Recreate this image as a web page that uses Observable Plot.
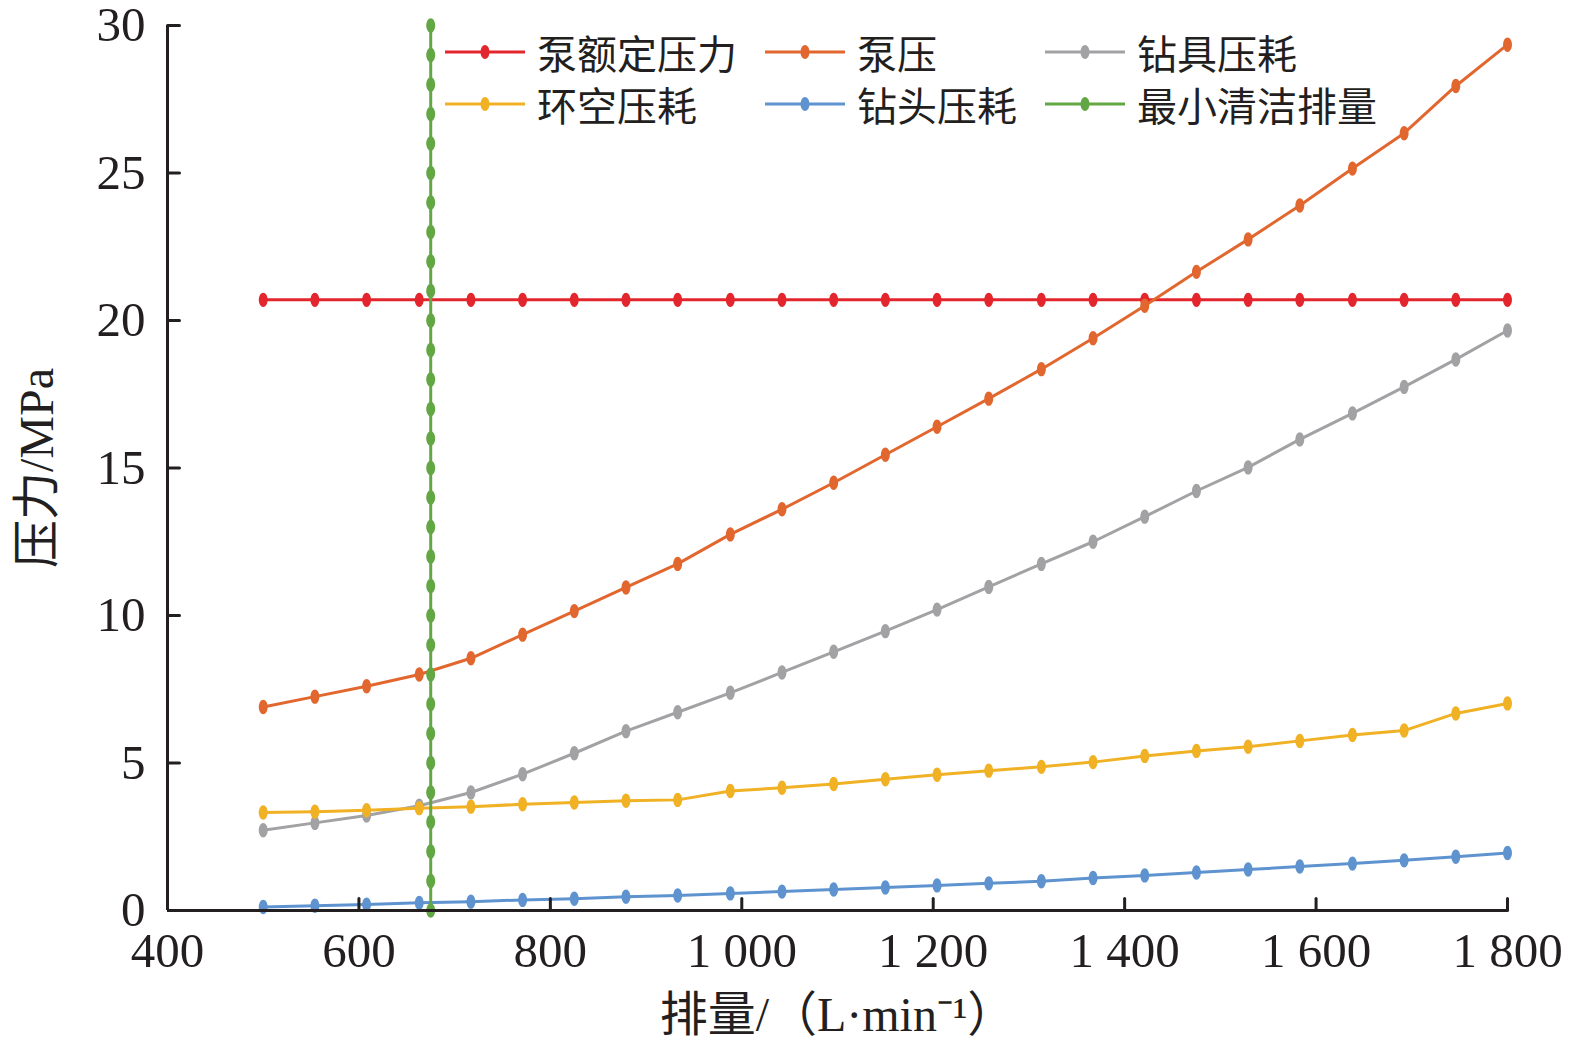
<!DOCTYPE html>
<html>
<head>
<meta charset="utf-8">
<script src="https://cdn.jsdelivr.net/npm/d3@7"></script>
<script src="https://cdn.jsdelivr.net/npm/@observablehq/plot@0.6"></script>
<style>
  html, body { margin: 0; background: #fff; overflow: hidden; }
  #wrap { position: relative; width: 1575px; height: 1048px; font-family: "Liberation Serif", "Noto Sans CJK SC", serif; color: #231f20; }
  #wrap > svg { display: block; max-width: none; }
  #legend { position: absolute; left: 0; top: 0; }
  .item { position: absolute; display: flex; align-items: center; font-size: 40px; line-height: 40px; white-space: nowrap; font-family: "Noto Sans CJK SC", sans-serif; }
  .item svg { display: block; margin-right: 12px; }
  .item span { display: block; height: 40px; line-height: 40px; overflow: visible; }
</style>
</head>
<body>
<div id="wrap"><div id="legend"></div></div>
<script>
// ---- data ----
const flow = [500, 554, 608, 663, 717, 771, 825, 879, 933, 988, 1042, 1096, 1150, 1204, 1258, 1313, 1367, 1421, 1475, 1529, 1583, 1638, 1692, 1746, 1800];
const pumpRated = [20.7, 20.7, 20.7, 20.7, 20.7, 20.7, 20.7, 20.7, 20.7, 20.7, 20.7, 20.7, 20.7, 20.7, 20.7, 20.7, 20.7, 20.7, 20.7, 20.7, 20.7, 20.7, 20.7, 20.7, 20.7];
const pumpPressure = [6.9, 7.25, 7.6, 8.0, 8.55, 9.35, 10.15, 10.95, 11.75, 12.75, 13.6, 14.5, 15.45, 16.4, 17.35, 18.35, 19.4, 20.5, 21.65, 22.75, 23.9, 25.15, 26.35, 27.95, 29.35];
const drillStringLoss = [2.72, 2.97, 3.22, 3.55, 4.0, 4.62, 5.33, 6.08, 6.72, 7.38, 8.07, 8.77, 9.47, 10.2, 10.97, 11.75, 12.5, 13.35, 14.22, 15.02, 15.97, 16.85, 17.75, 18.68, 19.66];
const annulusLoss = [3.32, 3.35, 3.4, 3.47, 3.52, 3.6, 3.66, 3.72, 3.75, 4.05, 4.16, 4.29, 4.45, 4.6, 4.74, 4.87, 5.03, 5.24, 5.41, 5.55, 5.75, 5.95, 6.1, 6.68, 7.02];
const bitLoss = [0.12, 0.16, 0.2, 0.26, 0.3, 0.36, 0.4, 0.47, 0.51, 0.58, 0.64, 0.71, 0.78, 0.85, 0.92, 0.99, 1.1, 1.19, 1.29, 1.39, 1.49, 1.59, 1.7, 1.82, 1.95];
const minCleanFlow = 675;
const minCleanY = [0, 1, 2, 3, 4, 5, 6, 7, 8, 9, 10, 11, 12, 13, 14, 15, 16, 17, 18, 19, 20, 21, 22, 23, 24, 25, 26, 27, 28, 29, 30];

const seriesNames = ["泵额定压力", "泵压", "钻具压耗", "环空压耗", "钻头压耗", "最小清洁排量"];
const seriesColors = ["#e3262d", "#e2672f", "#a2a2a5", "#f0b124", "#5e93cf", "#62a744"];
const xTicks = [400, 600, 800, 1000, 1200, 1400, 1600, 1800];
const yTicks = [0, 5, 10, 15, 20, 25, 30];
const xLabel = "排量/（L·min⁻¹）";
const yLabel = "压力/MPa";

// ---- build rows ----
const valueSets = [pumpRated, pumpPressure, drillStringLoss, annulusLoss, bitLoss];
const seriesRows = valueSets.map((vals, i) => vals.map((v, j) => ({series: seriesNames[i], x: flow[j], y: v})));
seriesRows.push(minCleanY.map(v => ({series: seriesNames[5], x: minCleanFlow, y: v})));

// ellipse marker (taller than wide)
const ellipse = {
  draw(ctx, size) {
    const r = Math.sqrt(size / Math.PI);
    const rx = r * 0.62, ry = r, k = 0.5523;
    ctx.moveTo(0, -ry);
    ctx.bezierCurveTo(k * rx, -ry, rx, -k * ry, rx, 0);
    ctx.bezierCurveTo(rx, k * ry, k * rx, ry, 0, ry);
    ctx.bezierCurveTo(-k * rx, ry, -rx, k * ry, -rx, 0);
    ctx.bezierCurveTo(-rx, -k * ry, -k * rx, -ry, 0, -ry);
    ctx.closePath();
  }
};
const tickShape = { draw(ctx, l) { ctx.moveTo(0, 0); ctx.lineTo(0, -l); } };

const ink = "#231f20";
const marks = [];
seriesRows.forEach((rows, i) => {
  marks.push(Plot.line(rows, {x: "x", y: "y", stroke: seriesColors[i], strokeWidth: 3}));
  marks.push(Plot.dot(rows, {x: "x", y: "y", fill: seriesColors[i], r: 7.2, symbol: ellipse}));
});

const fmt = d => d >= 1000 ? `${Math.floor(d / 1000)} ${String(d % 1000).padStart(3, "0")}` : String(d);

const chart = Plot.plot({
  width: 1575,
  height: 1048,
  marginLeft: 167,
  marginRight: 68,
  marginTop: 25,
  marginBottom: 138,
  style: {fontFamily: '"Liberation Serif", "Noto Sans CJK SC", serif', color: ink, background: "#fff", overflow: "visible"},
  x: {domain: [400, 1800]},
  y: {domain: [0, 30]},
  marks: [
    Plot.axisX({ticks: xTicks, tickSize: 0, tickPadding: 22, tickFormat: fmt, fontSize: 49, label: null, fill: ink}),
    Plot.axisY({ticks: yTicks, tickSize: 0, tickPadding: 22, fontSize: 49, label: null, fill: ink}),
    ...marks,
    Plot.ruleY([0], {stroke: ink, strokeWidth: 3}),
    Plot.ruleX([400], {stroke: ink, strokeWidth: 3}),
    Plot.vector(xTicks.filter(d => d > 400), {x: d => d, y: 0, length: 12, rotate: 0, anchor: "start", shape: tickShape, stroke: ink, strokeWidth: 3}),
    Plot.vector(yTicks.filter(d => d > 0), {x: 400, y: d => d, length: 12, rotate: 90, anchor: "start", shape: tickShape, stroke: ink, strokeWidth: 3}),
    Plot.text([xLabel], {frameAnchor: "bottom", dy: 105, lineAnchor: "middle", textAnchor: "middle", text: d => d, fontSize: 48, fill: ink}),
    Plot.text([yLabel], {frameAnchor: "left", dx: -130, rotate: -90, lineAnchor: "middle", textAnchor: "middle", text: d => d, fontSize: 48, fill: ink})
  ]
});
document.getElementById("wrap").prepend(chart);

// ---- legend (overlay inside plot area) ----
const legendCols = [445, 765, 1045];
const legendRows = [52, 104];
const legend = document.getElementById("legend");
const legendOrder = [0, 1, 2, 3, 4, 5];
legendOrder.forEach((si, k) => {
  const col = k % 3, row = Math.floor(k / 3);
  const div = document.createElement("div");
  div.className = "item";
  div.style.left = legendCols[col] + "px";
  div.style.top = (legendRows[row] - 20) + "px";
  div.style.height = "40px";
  const c = seriesColors[si];
  div.innerHTML = `<svg width="80" height="20" viewBox="0 0 80 20"><line x1="0" y1="10" x2="80" y2="10" stroke="${c}" stroke-width="3"/><ellipse cx="40" cy="10" rx="4.5" ry="7" fill="${c}"/></svg><span>${seriesNames[si]}</span>`;
  legend.appendChild(div);
});
</script>
</body>
</html>
